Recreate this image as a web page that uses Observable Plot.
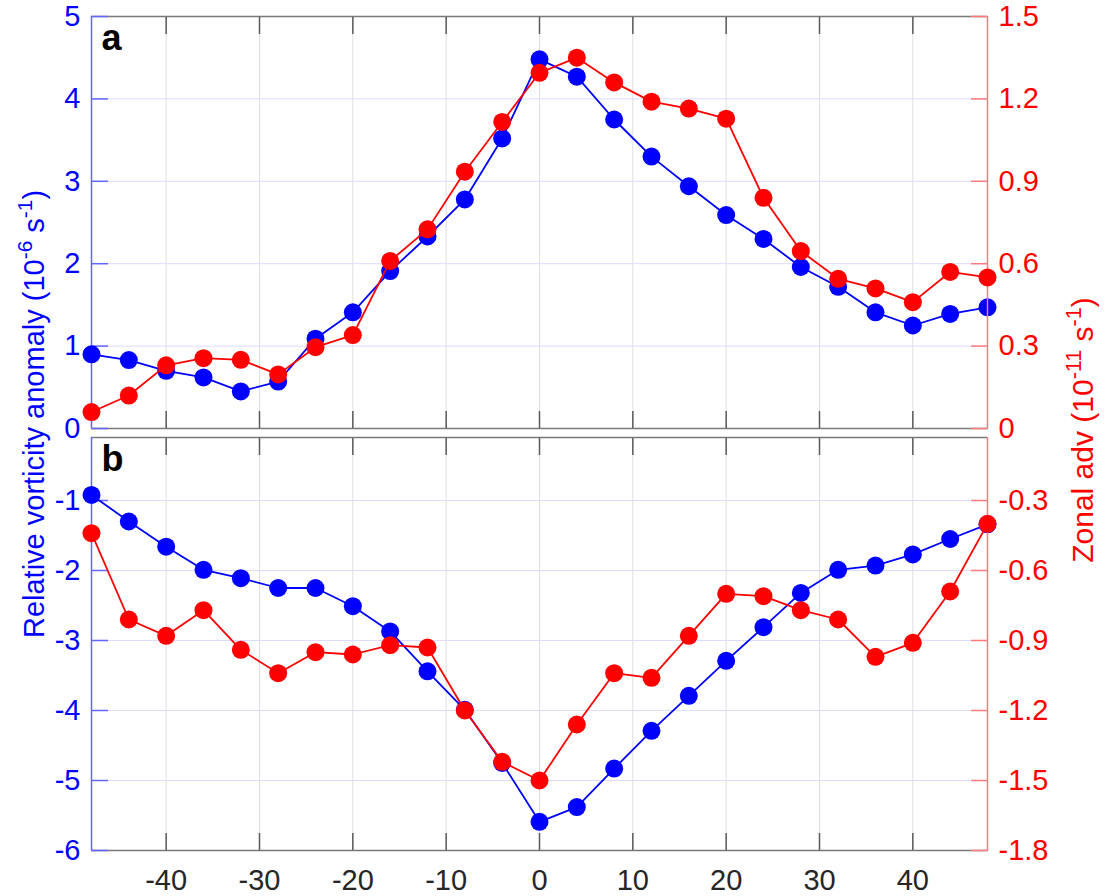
<!DOCTYPE html>
<html>
<head>
<meta charset="utf-8">
<script src="https://cdn.jsdelivr.net/npm/d3@7"></script>
<script src="https://cdn.jsdelivr.net/npm/@observablehq/plot@0.6"></script>
<style>
  html, body { margin: 0; padding: 0; background: #ffffff; }
  #chart { position: relative; width: 1106px; height: 896px; font-family: "Liberation Sans", Arial, Helvetica, sans-serif; }
  #chart svg { position: absolute; left: 0; overflow: visible; background: transparent; }
</style>
</head>
<body>
<div id="chart"></div>
<script>
// ---------------- data ----------------
const lags = [-48, -44, -40, -36, -32, -28, -24, -20, -16, -12, -8, -4, 0, 4, 8, 12, 16, 20, 24, 28, 32, 36, 40, 44, 48];

// panel a
const vortA = [0.90, 0.83, 0.70, 0.62, 0.45, 0.57, 1.09, 1.41, 1.91, 2.33, 2.78, 3.52, 4.48, 4.27, 3.75, 3.30, 2.94, 2.59, 2.30, 1.96, 1.72, 1.41, 1.25, 1.39, 1.47];
const advA  = [0.06, 0.12, 0.23, 0.256, 0.25, 0.197, 0.296, 0.34, 0.61, 0.725, 0.935, 1.116, 1.295, 1.35, 1.26, 1.19, 1.165, 1.128, 0.84, 0.646, 0.545, 0.51, 0.46, 0.57, 0.55];

// panel b
const vortB = [-0.92, -1.30, -1.66, -1.99, -2.11, -2.25, -2.25, -2.51, -2.87, -3.44, -3.99, -4.75, -5.59, -5.38, -4.83, -4.29, -3.79, -3.29, -2.81, -2.32, -1.99, -1.93, -1.77, -1.55, -1.34];
const advB  = [-0.44, -0.81, -0.88, -0.77, -0.94, -1.04, -0.95, -0.96, -0.92, -0.93, -1.20, -1.42, -1.50, -1.26, -1.04, -1.06, -0.88, -0.70, -0.71, -0.77, -0.81, -0.97, -0.91, -0.69, -0.40];

// ticks
const xTicks = [-40, -30, -20, -10, 0, 10, 20, 30, 40];
const yTicksA = [0, 1, 2, 3, 4, 5];
const yGridA = [1, 2, 3, 4];
const y2TicksA = [0, 0.3, 0.6, 0.9, 1.2, 1.5];
const yTicksB = [-6, -5, -4, -3, -2, -1];
const yGridB = [-5, -4, -3, -2, -1];
const y2TicksB = [-1.8, -1.5, -1.2, -0.9, -0.6, -0.3];

// labels
const leftTitle = [["Relative vorticity anomaly (10", false], ["-6", true], [" s", false], ["-1", true], [")", false]];
const rightTitle = [["Zonal adv (10", false], ["-11", true], [" s", false], ["-1", true], [")", false]];

// ---------------- layout ----------------
const W = 1106, ML = 91, MR = 119;
const FONT = '"Liberation Sans", Arial, Helvetica, sans-serif';
const BLUE = "#0000ff", RED = "#ff0000";
const AXBLUE = "#6464ff", AXRED = "#ff7a7a", FRAME = "#7a7a7a", XTICK = "#5a5a5a";
const FS = 29;
const TL = 17;
const fmt = d => String(d);

const chart = document.getElementById("chart");

function panel({top, height, mt, mb, yDom, y2Dom, yTicks, y2Ticks, grid, vort, adv, label, xLabels}) {
  const dv = lags.map((lag, i) => ({lag, value: vort[i]}));
  const da = lags.map((lag, i) => ({lag, value: adv[i]}));
  const common = {
    width: W, height, marginLeft: ML, marginRight: MR, marginTop: mt, marginBottom: mb,
    style: {fontFamily: FONT, background: "transparent", overflow: "visible"}
  };
  const base = Plot.plot({
    ...common,
    x: {domain: [-48, 48], axis: null},
    y: {domain: yDom, axis: null},
    marks: [
      Plot.ruleX(xTicks, {stroke: "#dedede", strokeWidth: 1}),
      Plot.ruleY(grid, {stroke: "#dcdcff", strokeWidth: 1}),
      Plot.ruleY([yDom[1]], {stroke: FRAME, strokeWidth: 1.5}),
      Plot.ruleY([yDom[0]], {stroke: FRAME, strokeWidth: 1.5}),
      Plot.axisX(xTicks, {anchor: "bottom", tickSize: TL, dy: -TL, fill: "none", stroke: XTICK, strokeWidth: 1.5, label: null}),
      Plot.axisX(xTicks, {anchor: "top", tickSize: TL, dy: TL, fill: "none", stroke: XTICK, strokeWidth: 1.5, label: null}),
      xLabels ? Plot.axisX(xTicks, {anchor: "bottom", tickSize: 0, tickPadding: 19, stroke: "none", fill: "#262626", fontSize: FS, tickFormat: fmt, label: null}) : null,
      Plot.ruleX([-48], {stroke: AXBLUE, strokeWidth: 1.5}),
      Plot.axisY(yTicks, {anchor: "left", tickSize: TL, dx: TL, fill: "none", stroke: AXBLUE, strokeWidth: 1.5, label: null}),
      Plot.axisY(yTicks, {anchor: "left", tickSize: 0, tickPadding: 11, stroke: "none", fill: BLUE, fontSize: FS, tickFormat: fmt, label: null}),
      Plot.line(dv, {x: "lag", y: "value", stroke: BLUE, strokeWidth: 1.8}),
      Plot.dot(dv, {x: "lag", y: "value", r: 9, fill: BLUE, stroke: "none"}),
      Plot.text([label], {frameAnchor: "top-left", textAnchor: "start", lineAnchor: "top", dx: 10, dy: 8, fontSize: 36, fontWeight: "bold", fill: "#000000"})
    ]
  });
  const over = Plot.plot({
    ...common,
    x: {domain: [-48, 48], axis: null},
    y: {domain: y2Dom, axis: null},
    marks: [
      Plot.ruleX([48], {stroke: AXRED, strokeWidth: 1.5}),
      Plot.axisY(y2Ticks, {anchor: "right", tickSize: TL, dx: -TL, fill: "none", stroke: AXRED, strokeWidth: 1.5, label: null}),
      Plot.axisY(y2Ticks, {anchor: "right", tickSize: 0, tickPadding: 11, stroke: "none", fill: RED, fontSize: FS, tickFormat: fmt, label: null}),
      Plot.line(da, {x: "lag", y: "value", stroke: RED, strokeWidth: 1.8}),
      Plot.dot(da, {x: "lag", y: "value", r: 9, fill: RED, stroke: "none"})
    ]
  });
  base.style.top = top + "px";
  over.style.top = top + "px";
  chart.appendChild(base);
  chart.appendChild(over);
}

panel({top: 0, height: 440, mt: 16, mb: 12, yDom: [0, 5], y2Dom: [0, 1.5],
  yTicks: yTicksA, y2Ticks: y2TicksA, grid: yGridA, vort: vortA, adv: advA, label: "a", xLabels: false});
panel({top: 430, height: 466, mt: 7, mb: 46, yDom: [-6, -0.1], y2Dom: [-1.8, -0.03],
  yTicks: yTicksB, y2Ticks: y2TicksB, grid: yGridB, vort: vortB, adv: advB, label: "b", xLabels: true});

// axis titles (rotated, with superscripts)
const tsvg = d3.select(chart).append("svg")
  .attr("width", W).attr("height", 896)
  .style("top", "0px").style("pointer-events", "none");

function title(x, y, color, parts, fs) {
  const t = tsvg.append("text")
    .attr("transform", `translate(${x},${y}) rotate(-90)`)
    .attr("text-anchor", "middle")
    .attr("font-family", FONT)
    .attr("font-size", fs)
    .attr("fill", color);
  let raised = false;
  parts.forEach(([s, sup]) => {
    const sp = t.append("tspan").text(s);
    if (sup) { sp.attr("font-size", fs * 0.72).attr("dy", -12); raised = true; }
    else if (raised) { sp.attr("dy", 12); raised = false; }
  });
}
title(44, 414, BLUE, leftTitle, 29);
title(1093, 430, RED, rightTitle, 30);
</script>
</body>
</html>
